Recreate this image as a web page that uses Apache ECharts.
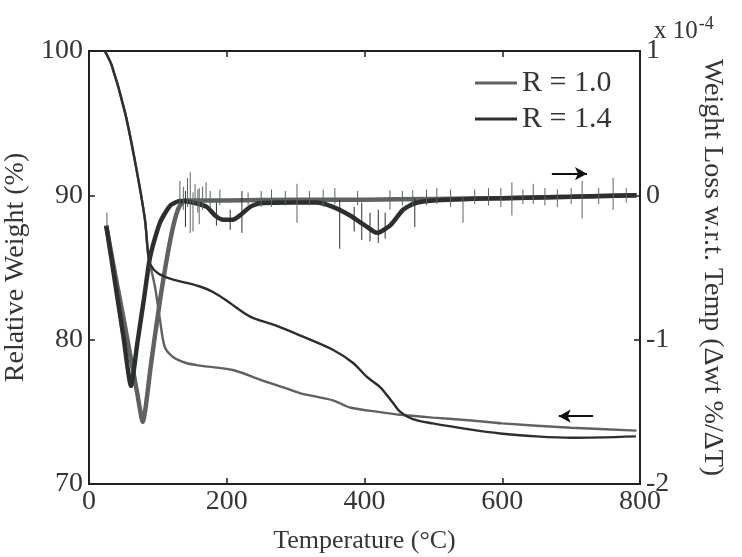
<!DOCTYPE html>
<html><head><meta charset="utf-8">
<script src="https://cdn.jsdelivr.net/npm/echarts@6/dist/echarts.min.js"></script>
<style>html,body{margin:0;padding:0;background:#fff}#c{width:742px;height:557px}</style>
</head><body><div id="c"></div>
<script>
// ---- data ----
const seriesNames = ['R = 1.0', 'R = 1.4'];

// TGA (left axis, Relative Weight %)
const tgaT_R10 = [23, 33, 52, 67, 81, 86, 96, 103, 110, 122, 140, 161, 209, 250, 282, 306, 354, 379, 420, 452, 500, 555, 600, 700, 795];
const tgaW_R10 = [100, 99.0, 95.8, 92.3, 88.4, 85.9, 83.6, 81.4, 79.5, 78.8, 78.4, 78.2, 77.9, 77.2, 76.7, 76.3, 75.8, 75.3, 75.0, 74.8, 74.6, 74.4, 74.2, 73.9, 73.7];

const tgaT_R14 = [23, 33, 52, 67, 81, 86, 89, 100, 120, 160, 180, 200, 234, 270, 306, 354, 383, 404, 423, 440, 452, 470, 499, 550, 597, 650, 700, 794];
const tgaW_R14 = [100, 99.0, 95.8, 92.3, 88.4, 85.9, 85.2, 84.6, 84.2, 83.7, 83.3, 82.7, 81.6, 81.0, 80.3, 79.3, 78.4, 77.4, 76.7, 75.7, 75.0, 74.5, 74.2, 73.8, 73.5, 73.3, 73.2, 73.3];

// DTG (right axis, x 10^-4)
const dtgT_R10 = [25, 40, 50, 60, 70, 78, 90, 103, 118, 129, 139, 200, 300, 400, 500, 600, 700, 795];
const dtgD_R10 = [-0.21, -0.60, -0.85, -1.11, -1.37, -1.57, -1.17, -0.73, -0.31, -0.10, -0.035, -0.035, -0.03, -0.03, -0.025, -0.02, -0.01, 0.0];

const dtgT_R14 = [25, 30, 40, 50, 61, 70, 80, 89, 103, 118, 132, 150, 171, 183, 195, 208, 219, 234, 248, 300, 330, 354, 379, 401, 418, 437, 456, 473, 500, 600, 700, 795];
const dtgD_R14 = [-0.21, -0.36, -0.67, -0.98, -1.32, -1.03, -0.71, -0.42, -0.19, -0.07, -0.04, -0.05, -0.08, -0.14, -0.17, -0.17, -0.14, -0.08, -0.055, -0.05, -0.05, -0.08, -0.14, -0.21, -0.26, -0.21, -0.10, -0.055, -0.035, -0.02, -0.01, 0.0];

// noise spikes: [temperature, low, high]
const spikes_R10 = [[26, -0.22, -0.12], [132, -0.05, 0.10], [137, -0.10, 0.06], [143, -0.08, 0.12], [147, -0.26, 0.16], [151, -0.25, 0.02], [154, -0.05, 0.08], [158, -0.12, 0.04], [160, -0.20, 0.05], [165, -0.10, 0.06], [170, -0.03, 0.09], [176, -0.09, 0.03], [190, -0.07, 0.04], [231, -0.07, 0.02], [250, -0.08, 0.03], [265, -0.08, 0.04], [285, -0.07, 0.03], [302, -0.19, 0.08], [320, -0.07, 0.03], [340, -0.08, 0.04], [357, -0.06, 0.05], [390, -0.07, 0.03], [437, -0.10, 0.035], [455, -0.07, 0.03], [470, -0.08, 0.035], [490, -0.07, 0.04], [505, -0.06, 0.05], [525, -0.08, 0.04], [543, -0.19, -0.01], [560, -0.06, 0.04], [580, -0.07, 0.05], [598, -0.08, 0.05], [614, -0.14, 0.09], [630, -0.06, 0.04], [645, -0.06, 0.08], [662, -0.07, 0.05], [680, -0.08, 0.04], [700, -0.06, 0.05], [716, -0.16, 0.10], [740, -0.06, 0.05], [761, -0.10, 0.12], [780, -0.05, 0.05]];
const spikes_R14 = [[140, -0.22, 0.03], [185, -0.21, -0.05], [205, -0.24, -0.10], [222, -0.26, 0.03], [364, -0.37, -0.03], [385, -0.25, -0.08], [396, -0.31, -0.05], [408, -0.32, -0.12], [420, -0.33, -0.10], [430, -0.30, -0.12], [473, -0.22, -0.02]];

const xTicks = {min: 0, max: 800, step: 200};
const leftTicks = {min: 70, max: 100, step: 10};
const rightTicks = {min: -2, max: 1, step: 1};

// ---- build ----
const zip = (xs, ys) => xs.map((x, i) => [x, ys[i]]);
const seg = s => s.flatMap(([t, lo, hi]) => [[t, lo], [t, hi], [t, '-']]);

const C10 = '#5e6361', C14 = '#2b302e', TXT = '#323735', AX = '#1e2220';
const FONT = 'Liberation Serif';
const TICK_FS = 28, NAME_FS = 28;

const chart = echarts.init(document.getElementById('c'));
const tickCommon = {inside: true, length: 6, lineStyle: {color: AX, width: 1.5}};
chart.setOption({
  animation: false,
  backgroundColor: '#fff',
  textStyle: {fontFamily: FONT, color: TXT},
  grid: {left: 89, right: 102, top: 51, bottom: 73, show: true, borderColor: AX, borderWidth: 2,
         containLabel: false, outerBoundsMode: 'none'},
  legend: {
    data: seriesNames, orient: 'vertical', left: 470, top: 63, itemGap: 6,
    icon: 'rect', itemWidth: 42, itemHeight: 3,
    textStyle: {fontFamily: FONT, fontSize: 30, color: TXT}
  },
  graphic: [{
    type: 'text', left: 654, top: 15,
    style: {
      text: '{a|x 10}{b|-4}',
      rich: {a: {fontFamily: FONT, fontSize: 25, fill: TXT}, b: {fontFamily: FONT, fontSize: 18, fill: TXT, verticalAlign: 'top', padding: [0, 0, 14, 1]}}
    }
  }],
  xAxis: [{
    type: 'value', min: xTicks.min, max: xTicks.max, interval: xTicks.step,
    name: 'Temperature (°C)', nameLocation: 'middle', nameGap: 44,
    nameTextStyle: {fontFamily: FONT, fontSize: NAME_FS - 2, color: TXT},
    axisLine: {onZero: false, lineStyle: {color: AX, width: 2}}, axisTick: tickCommon,
    axisLabel: {fontFamily: FONT, fontSize: TICK_FS, color: TXT, margin: 4},
    splitLine: {show: false}
  }, {
    type: 'value', position: 'top', min: xTicks.min, max: xTicks.max, interval: xTicks.step,
    axisLine: {onZero: false, lineStyle: {color: AX, width: 2}}, axisTick: tickCommon,
    axisLabel: {show: false}, splitLine: {show: false}
  }],
  yAxis: [{
    type: 'value', min: leftTicks.min, max: leftTicks.max, interval: leftTicks.step,
    name: 'Relative Weight (%)', nameLocation: 'middle', nameGap: 57,
    nameTextStyle: {fontFamily: FONT, fontSize: NAME_FS, color: TXT},
    axisLine: {show: true, onZero: false, lineStyle: {color: AX, width: 2}}, axisTick: {show: true, ...tickCommon},
    axisLabel: {fontFamily: FONT, fontSize: TICK_FS, color: TXT, margin: 6},
    splitLine: {show: false}
  }, {
    type: 'value', position: 'right', min: rightTicks.min, max: rightTicks.max, interval: rightTicks.step,
    name: 'Weight Loss w.r.t. Temp (Δwt %/ΔT)', nameLocation: 'middle', nameGap: 58, nameRotate: -90,
    nameTextStyle: {fontFamily: FONT, fontSize: NAME_FS, color: TXT},
    axisLine: {show: true, onZero: false, lineStyle: {color: AX, width: 2}}, axisTick: {show: true, ...tickCommon},
    axisLabel: {fontFamily: FONT, fontSize: TICK_FS, color: TXT, margin: 6},
    splitLine: {show: false}
  }],
  series: [
    {name: seriesNames[0], type: 'line', yAxisIndex: 0, data: zip(tgaT_R10, tgaW_R10), symbol: 'none', smooth: 0.3,
     lineStyle: {color: C10, width: 2.4}, itemStyle: {color: C10}, z: 3,
     markLine: {silent: true, symbol: ['arrow', 'none'], symbolSize: [10, 12], label: {show: false},
       lineStyle: {color: '#111', width: 2, type: 'solid'},
       data: [[{coord: [682, 74.7]}, {coord: [732, 74.7]}]]}},
    {name: seriesNames[1], type: 'line', yAxisIndex: 0, data: zip(tgaT_R14, tgaW_R14), symbol: 'none', smooth: 0.3,
     lineStyle: {color: C14, width: 2.4}, itemStyle: {color: C14}, z: 3},
    {name: seriesNames[0], type: 'line', yAxisIndex: 1, data: zip(dtgT_R10, dtgD_R10), symbol: 'none', smooth: 0.2,
     lineStyle: {color: C10, width: 4.5}, z: 2,
     markLine: {silent: true, symbol: ['none', 'arrow'], symbolSize: [10, 12], label: {show: false},
       lineStyle: {color: '#111', width: 2, type: 'solid'},
       data: [[{coord: [672, 0.15]}, {coord: [723, 0.15]}]]}},
    {name: seriesNames[1], type: 'line', yAxisIndex: 1, data: zip(dtgT_R14, dtgD_R14), symbol: 'none', smooth: 0.2,
     lineStyle: {color: C14, width: 4.5}, z: 2},
    {name: seriesNames[0], type: 'line', yAxisIndex: 1, data: seg(spikes_R10), symbol: 'none', connectNulls: false,
     lineStyle: {color: C10, width: 1}, z: 2},
    {name: seriesNames[1], type: 'line', yAxisIndex: 1, data: seg(spikes_R14), symbol: 'none', connectNulls: false,
     lineStyle: {color: C14, width: 1}, z: 2}
  ]
});
</script></body></html>
